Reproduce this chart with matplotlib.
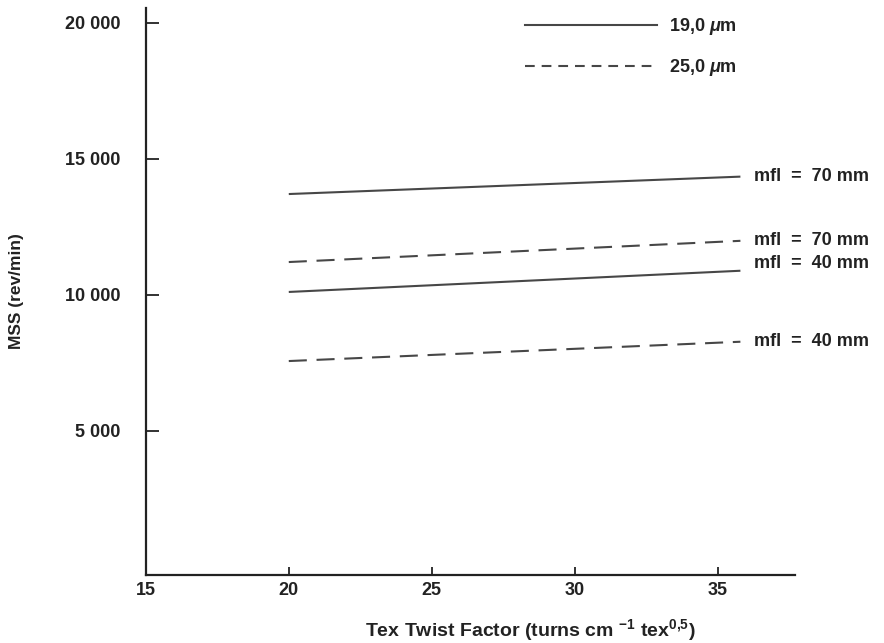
import matplotlib
matplotlib.use("Agg")
import matplotlib.pyplot as plt
from matplotlib.lines import Line2D

# ---- data ----
twist = [20, 35.8]                       # tex twist factor, start / end of each line
mss_19_70 = [13700, 14340]               # 19,0 um, mfl = 70 mm
mss_25_70 = [11200, 11980]               # 25,0 um, mfl = 70 mm
mss_19_40 = [10100, 10880]               # 19,0 um, mfl = 40 mm
mss_25_40 = [7560, 8270]                 # 25,0 um, mfl = 40 mm
end_labels = ["mfl  =  70 mm", "mfl  =  70 mm", "mfl  =  40 mm", "mfl  =  40 mm"]
legend_labels = ["19,0 $\\mu$m", "25,0 $\\mu$m"]

x_ticks = [15, 20, 25, 30, 35]
y_ticks = [5000, 10000, 15000, 20000]
y_ticklabels = ["5 000", "10 000", "15 000", "20 000"]

plt.rcParams['font.family'] = ['Liberation Sans', 'DejaVu Sans']
plt.rcParams['font.weight'] = 'bold'
plt.rcParams['mathtext.fontset'] = 'custom'
plt.rcParams['mathtext.rm'] = 'Liberation Sans:bold'
plt.rcParams['mathtext.it'] = 'Liberation Sans:italic'
plt.rcParams['mathtext.bf'] = 'Liberation Sans:bold'
plt.rcParams['lines.scale_dashes'] = False

ink = '#222222'
line_col = '#474747'

fig = plt.figure(figsize=(8.84, 6.43), dpi=100)
ax = fig.add_axes([0.165, 0.106, 0.734, 0.882])

solid = dict(color=line_col, lw=1.5, solid_capstyle='butt')
dashed = dict(color=line_col, lw=1.5, dashes=(13, 7), dash_capstyle='butt')

series = [(mss_19_70, solid), (mss_25_70, dashed),
          (mss_19_40, solid), (mss_25_40, dashed)]
label_dy = [0, 0, 5, 0]  # nudge in points, the two middle labels sit close

for (vals, style), txt, dy in zip(series, end_labels, label_dy):
    ax.plot(twist, vals, **style)
    ax.annotate(txt, xy=(twist[-1], vals[-1]), xytext=(10, dy),
                textcoords='offset points', va='center', ha='left',
                fontsize=13, color=ink, annotation_clip=False)

ax.set_xlim(15, 37.7)
ax.set_ylim(-300, 20550)

ax.set_xticks(x_ticks)
ax.set_xticklabels([str(t) for t in x_ticks])
ax.set_yticks(y_ticks)
ax.set_yticklabels(y_ticklabels)

ax.tick_params(axis='y', direction='in', length=9, width=1.3, pad=18,
               labelsize=13, colors=ink)
ax.tick_params(axis='x', direction='in', length=6, width=1.3, pad=5,
               labelsize=13, colors=ink)

for side in ['top', 'right']:
    ax.spines[side].set_visible(False)
for side in ['left', 'bottom']:
    ax.spines[side].set_linewidth(1.6)
    ax.spines[side].set_color(ink)

ax.set_ylabel('MSS (rev/min)', fontsize=12.5, fontweight='bold', color=ink,
              labelpad=30)

# x label sits right of the axis centre in the original
fig.text(0.6, 0.02, 'Tex Twist Factor (turns cm $^{-1}$ tex$^{0{,}5}$)',
         ha='center', va='center', fontsize=14, fontweight='bold', color=ink)

# legend with its own short dashes
handles = [Line2D([], [], color=line_col, lw=1.5),
           Line2D([], [], color=line_col, lw=1.5, dashes=(7, 5))]
ax.legend(handles, legend_labels, loc='upper left', bbox_to_anchor=(0.584, 0.985),
          frameon=False, fontsize=13, handlelength=7.3, handletextpad=0.7,
          labelspacing=1.1, borderpad=0, borderaxespad=0, labelcolor=ink)

fig.savefig('out.png', dpi=100, facecolor='white')
